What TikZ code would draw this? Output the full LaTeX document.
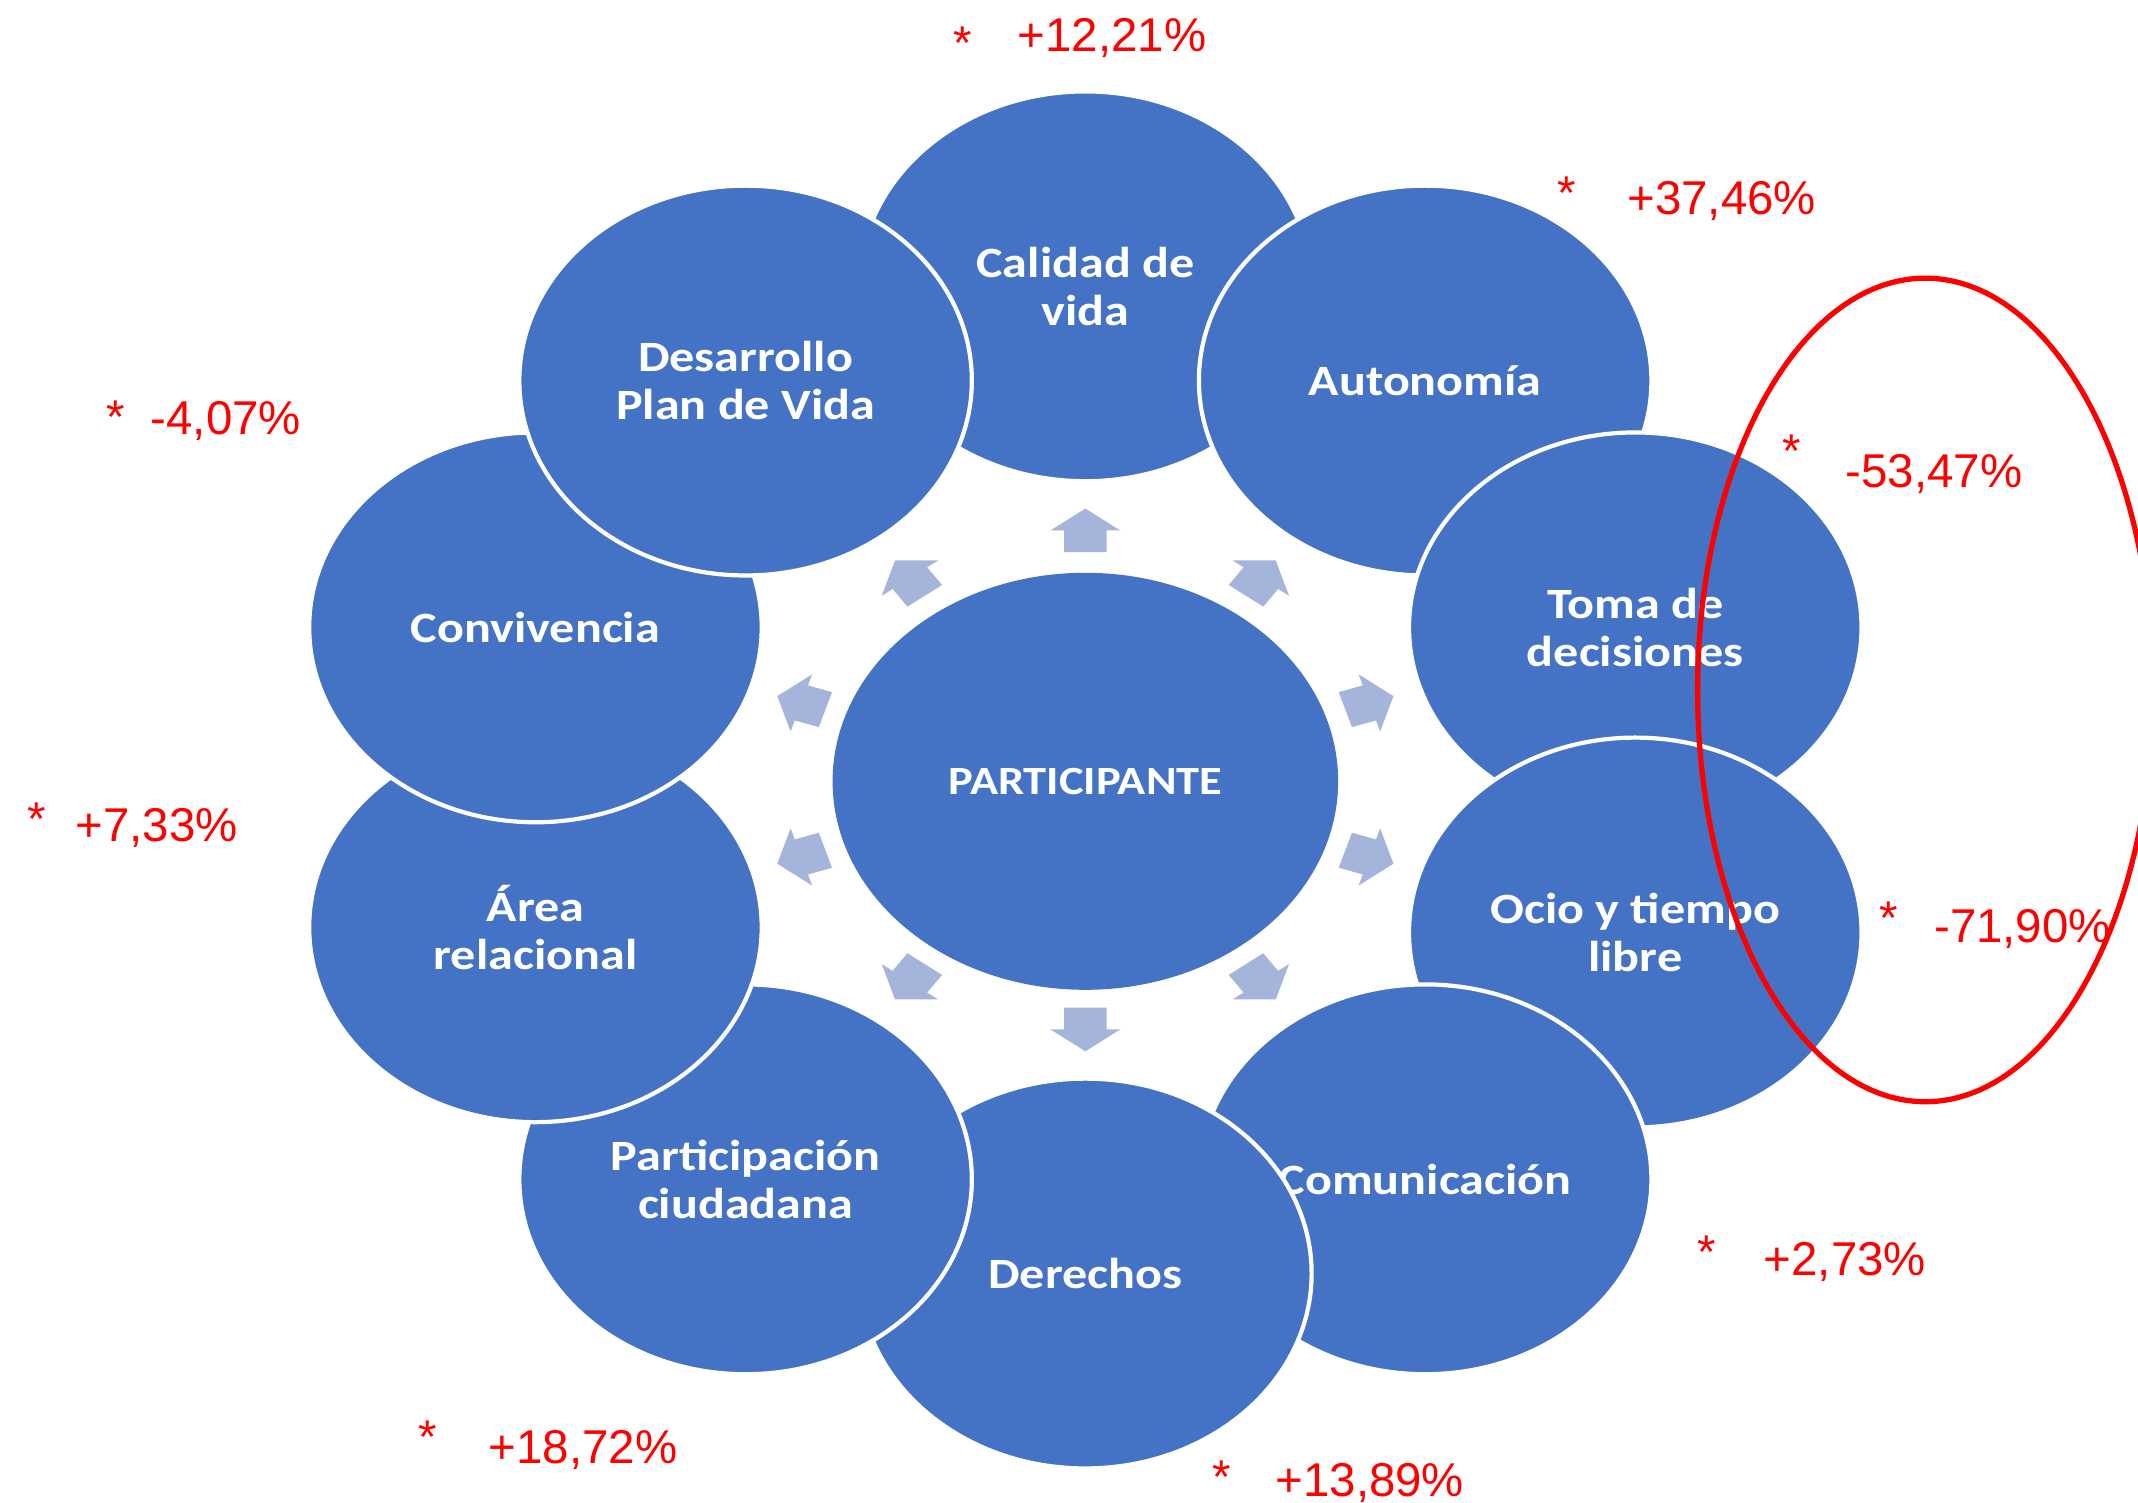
\documentclass[tikz,border=0pt]{standalone}
\usepackage{fontspec}
\setmainfont{Liberation Sans}
\newfontfamily\satfont{Carlito}[FakeStretch=1.16]
\usetikzlibrary{shapes.geometric}
\definecolor{ringblue}{RGB}{68,114,196}
\definecolor{arrowtint}{RGB}{165,180,218}
\definecolor{markred}{RGB}{255,0,0}

\tikzset{
  bubble/.style={ellipse, fill=ringblue, draw=white, line width=1.2pt, inner sep=0pt,
    minimum width=4.527cm, minimum height=3.9cm, text=white, align=center,
    font=\satfont\bfseries\fontsize{12.3}{13.6}\selectfont},
  hub/.style={ellipse, fill=ringblue, draw=none, inner sep=0pt,
    minimum width=5.058cm, minimum height=4.172cm, text=white,
    font=\satfont\bfseries\fontsize{11.4}{13}\selectfont},
  pct/.style={text=markred, inner sep=0pt, anchor=base west,
    font=\fontsize{13.5}{16}\selectfont},
  starmark/.style={text=markred, inner sep=0pt, anchor=base,
    font=\fontsize{13.5}{16}\selectfont},
  spoke/.style={fill=arrowtint, draw=none},
  halo/.style={draw=markred, line width=1.5pt}
}

% block arrow pointing along +x, centred on the origin
\newcommand{\blockarrow}[3]{%
  \fill[spoke, shift={(#1,#2)}, xscale=1.16, rotate=#3]
    (-16,-13.5) -- (0,-13.5) -- (0,-22) -- (16,0) -- (0,22) -- (0,13.5) -- (-16,13.5) -- cycle;}

\begin{document}
\begin{tikzpicture}[x=0.013635cm, y=-0.013635cm]
  \fill[white] (0,0) rectangle (1568,1102);
  \useasboundingbox (0,0) rectangle (1568,1102);

  % centre
  \node[hub] (hub) at (796,573) {PARTICIPANTE};

  % radial arrows
  \blockarrow{796}{389}{90}
  \blockarrow{924.7}{424}{54}
  \blockarrow{1004.3}{515.5}{18}
  \blockarrow{1004.3}{628.5}{-18}
  \blockarrow{924.7}{720}{-54}
  \blockarrow{796}{755}{-90}
  \blockarrow{667.3}{720}{-126}
  \blockarrow{587.7}{628.5}{-162}
  \blockarrow{587.7}{515.5}{162}
  \blockarrow{667.3}{424}{126}

  % ring of topics, each one laid over the previous
  \node[bubble] (calidad)  at (796,210)       {Calidad de\\vida};
  \node[bubble] (autonomia) at (1045.2,279.1) {Autonomía};
  \node[bubble] (toma)     at (1199.3,460.1)  {Toma de\\decisiones};
  \node[bubble] (ocio)     at (1199.3,683.9)  {Ocio y tiempo\\libre};
  \node[bubble] (comunic)  at (1045.2,864.9)  {Comunicación};
  \node[bubble] (derechos) at (796,934)       {Derechos};
  \node[bubble] (particip) at (546.8,864.9)   {Participación\\ciudadana};
  \node[bubble, yshift=1.5pt] (area) at (392.7,683.9) {Área\\relacional};
  \node[bubble] (conviv)   at (392.7,460.1)   {Convivencia};
  \node[bubble] (plan)     at (546.8,279.1)   {Desarrollo\\Plan de Vida};

  % highlighted pair
  \draw[halo] (1412,506) ellipse [x radius=167, y radius=302];

  % percentage changes
  \node[starmark] (s1) at (706,44)   {*};  \node[pct] (p1) at (746,37.5)   {+12,21\%};
  \node[starmark] (s2) at (1149,154) {*};  \node[pct] (p2) at (1193,157.5) {+37,46\%};
  \node[starmark] (s3) at (85,318)   {*};  \node[pct] (p3) at (110,318.5)  {-4,07\%};
  \node[starmark] (s4) at (1314,343) {*};  \node[pct] (p4) at (1353,357.5) {-53,47\%};
  \node[starmark] (s5) at (27,613)   {*};  \node[pct] (p5) at (55,617.5)   {+7,33\%};
  \node[starmark] (s6) at (1385,685) {*};  \node[pct] (p6) at (1418,691.5) {-71,90\%};
  \node[starmark] (s7) at (1252,930) {*};  \node[pct] (p7) at (1293,935.5) {+2,73\%};
  \node[starmark] (s8) at (314,1066) {*};  \node[pct] (p8) at (358,1073.5) {+18,72\%};
  \node[starmark] (s9) at (896,1095) {*};  \node[pct] (p9) at (935,1097.5) {+13,89\%};
\end{tikzpicture}
\end{document}
